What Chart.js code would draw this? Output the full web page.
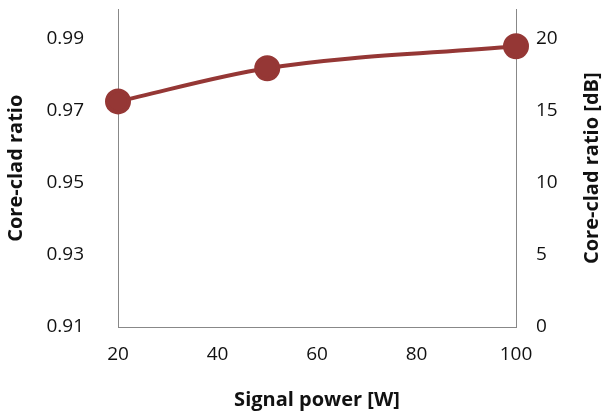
<!DOCTYPE html>
<html><head><script src="https://cdn.jsdelivr.net/npm/chart.js@4"></script>
<style>body{margin:0;background:#fff;overflow:hidden}#w{width:607px;height:444px;margin-top:-28px}</style></head>
<body><div id="w"><canvas id="c"></canvas></div>
<script>
const power=[20,50,100];
const ratio=[0.9725,0.9817,0.9878];
const leftTicks=[0.91,0.93,0.95,0.97,0.99];
const rightTicks=[0,5,10,15,20];
const xTicks=[20,40,60,80,100];
const font={family:'Open Sans',size:19};
const tfont={family:'Open Sans',size:20,weight:'bold'};
const rightTitle={id:'rt',afterDraw(ch){const c=ch.ctx,a=ch.chartArea;c.save();c.font='bold 20px "Open Sans"';c.fillStyle='#111';c.textAlign='center';c.textBaseline='middle';c.translate(592,(a.top+a.bottom)/2);c.rotate(-Math.PI/2);c.fillText('Core-clad ratio [dB]',0,0);c.restore();}};
new Chart(document.getElementById('c'),{
type:'line',
data:{datasets:[{data:power.map((p,i)=>({x:p,y:ratio[i]})),borderColor:'#953735',backgroundColor:'#953735',borderWidth:4,pointRadius:11,pointHoverRadius:11,tension:0.4,cubicInterpolationMode:'monotone',clip:false}]},
plugins:[rightTitle],
options:{responsive:true,maintainAspectRatio:false,animation:false,
plugins:{legend:{display:false},tooltip:{enabled:false}},
scales:{
x:{type:'linear',min:20,max:100,afterBuildTicks:a=>{a.ticks=xTicks.map(v=>({value:v}))},afterFit:a=>{a.height=89},
grid:{display:false},border:{color:'#888'},ticks:{font,color:'#111',padding:8},
title:{display:true,text:'Signal power [W]',font:tfont,color:'#111'}},
y:{position:'left',min:0.91,max:0.998,afterBuildTicks:a=>{a.ticks=leftTicks.map(v=>({value:v}))},afterFit:a=>{a.width=118},
grid:{display:false},border:{color:'#888'},ticks:{font,color:'#111',padding:26,callback:v=>v.toFixed(2)},
title:{display:true,text:'Core-clad ratio',font:tfont,color:'#111'}},
y2:{position:'right',min:0,max:22,afterBuildTicks:a=>{a.ticks=rightTicks.map(v=>({value:v}))},afterFit:a=>{a.width=91},
grid:{display:false},border:{color:'#888'},ticks:{font,color:'#111',padding:12},
title:{display:false}}
}}});
</script></body></html>
